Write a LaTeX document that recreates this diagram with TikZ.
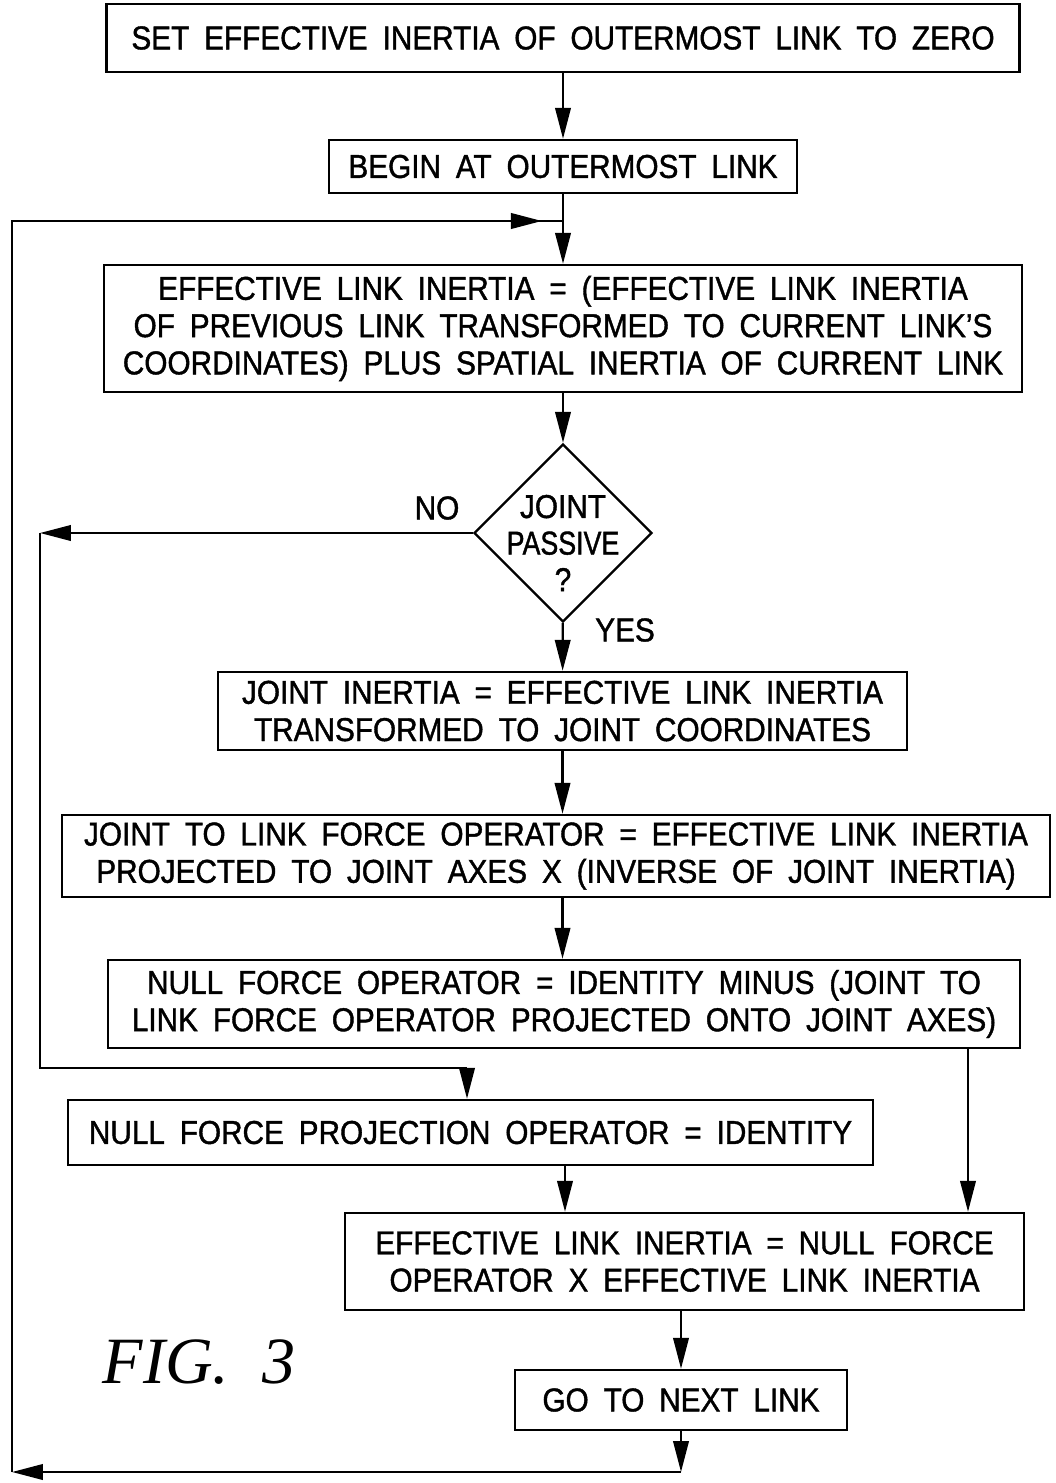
\documentclass[tikz,border=0pt]{standalone}
\usepackage{fontspec}
\setmainfont{Liberation Sans}[FakeStretch=0.9,WordSpace=1.8,FakeBold=1.2]
\newfontfamily\figfont{Liberation Serif}
\usetikzlibrary{shapes.geometric,arrows.meta,calc}
\begin{document}
\begin{tikzpicture}[x=0.025cm,y=-0.025cm,
  line width=1.7pt,
  every node/.style={font=\fontsize{23.5}{26.5}\selectfont},
  box/.style={draw,rectangle,inner sep=0pt,align=center},
  arr/.style={-{Triangle[length=22pt,width=11pt]}}]
\useasboundingbox (0,0) rectangle (1055,1483);

% process boxes (centres and sizes in drawing units)
\node[box,minimum width=913*0.025cm,minimum height=68*0.025cm] (b1) at (563,38) {SET EFFECTIVE INERTIA OF OUTERMOST LINK TO ZERO};
\node[box,minimum width=468*0.025cm,minimum height=53*0.025cm] (b2) at (563,166.5) {BEGIN AT OUTERMOST LINK};
\node[box,minimum width=918*0.025cm,minimum height=127*0.025cm] (b3) at (563,328.5) {EFFECTIVE LINK INERTIA = (EFFECTIVE LINK INERTIA\\OF PREVIOUS LINK TRANSFORMED TO CURRENT LINK'S\\COORDINATES) PLUS SPATIAL INERTIA OF CURRENT LINK};
\node[draw,diamond,inner sep=0pt,minimum width=178*0.025cm,minimum height=178*0.025cm] (dia) at (563,533) {};
\node[align=center,font=\fontsize{23.5}{26}\selectfont] (diat) at (563,543) {JOINT\\\scalebox{0.9}[1]{PASSIVE}\\?};
\node (no) at (437,508) {NO};
\node (yes) at (625,630) {YES};
\node[box,minimum width=689*0.025cm,minimum height=78*0.025cm] (b4) at (562.5,711) {JOINT INERTIA = EFFECTIVE LINK INERTIA\\TRANSFORMED TO JOINT COORDINATES};
\node[box,minimum width=988*0.025cm,minimum height=82*0.025cm] (b5) at (556,856) {JOINT TO LINK FORCE OPERATOR = EFFECTIVE LINK INERTIA\\PROJECTED TO JOINT AXES X (INVERSE OF JOINT INERTIA)};
\node[box,minimum width=912*0.025cm,minimum height=88*0.025cm] (b6) at (564,1004) {NULL FORCE OPERATOR = IDENTITY MINUS (JOINT TO\\LINK FORCE OPERATOR PROJECTED ONTO JOINT AXES)};
\node[box,minimum width=805*0.025cm,minimum height=65*0.025cm] (b7) at (470.5,1132.5) {NULL FORCE PROJECTION OPERATOR = IDENTITY};
\node[box,minimum width=679*0.025cm,minimum height=97*0.025cm] (b8) at (684.5,1261.5) {EFFECTIVE LINK INERTIA = NULL FORCE\\OPERATOR X EFFECTIVE LINK INERTIA};
\node[box,minimum width=332*0.025cm,minimum height=60*0.025cm] (b9) at (681,1400) {GO TO NEXT LINK};
\node[font=\figfont\itshape\fontsize{47}{47}\selectfont] (fig) at (199,1362) {FIG.\ \ 3};

% routing points
\coordinate (lp) at (563,221);
\coordinate (c2) at (12,221);
\coordinate (c1) at (12,1472);
\coordinate (n1) at (40,533);
\coordinate (n2) at (40,1068);
\coordinate (n3) at (467,1068);
\coordinate (rx) at (968,0);
\coordinate (mx) at (565,0);

% main flow
\draw[arr] (b1) -- (b2);
\draw[arr] (b2) -- (b3);
\draw[arr] (b3) -- (dia);
\draw[arr] (dia) -- (b4);
\draw[arr] (b4.south) -- (b4.south |- b5.north);
\draw[arr] (b4.south |- b5.south) -- (b4.south |- b6.north);
\draw[arr] (b6.south -| rx) -- (b8.north -| rx);
\draw[arr] (b7.south -| mx) -- (b8.north -| mx);
\draw[arr] (b9.north |- b8.south) -- (b9.north);

% "no" branch
\draw[arr] (dia.west) -- (n1);
\draw (n1) -- (n2) -- (n3);
\draw[arr] (n3) -- (n3 |- b7.north);

% return to the top of the loop
\draw[arr] (b9.south) -- (b9.south |- c1);
\draw[arr] (b9.south |- c1) -- (c1);
\draw (c1) -- (c2) -- (lp);
\draw[arr,shorten >=15pt] (c2) -- (lp);
\end{tikzpicture}
\end{document}
